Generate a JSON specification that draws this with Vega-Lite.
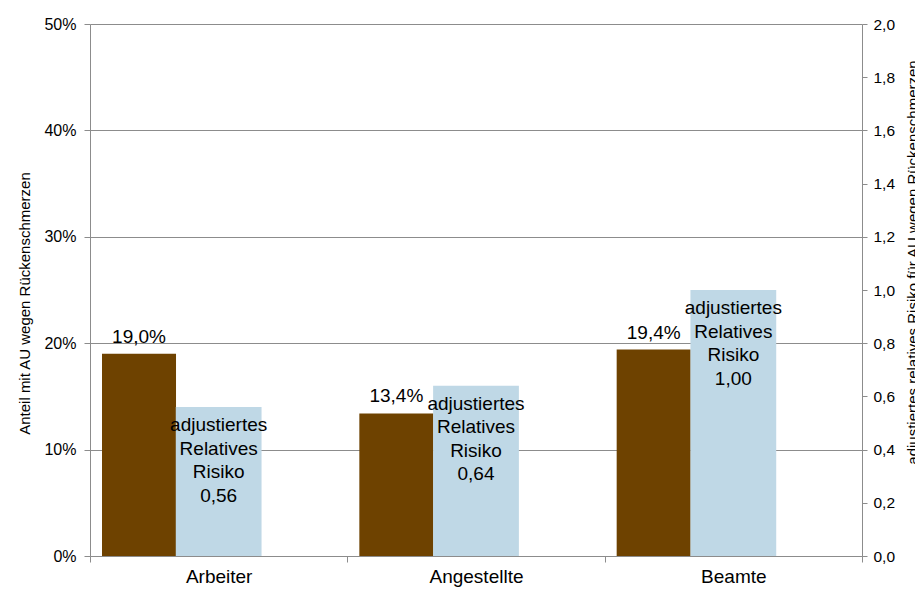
{
  "$schema": "https://vega.github.io/schema/vega-lite/v6.json",
  "width": 772,
  "height": 532,
  "autosize": {"type": "none"},
  "padding": {"left": 90, "top": 24, "right": 53, "bottom": 40},
  "background": "white",
  "config": {
    "font": "Liberation Sans",
    "locale": {"number": {"decimal": ",", "thousands": ".", "grouping": [3], "currency": ["", " €"]}},
    "view": {"stroke": null},
    "axis": {
      "domainColor": "#8c8c8c",
      "tickColor": "#8c8c8c",
      "gridColor": "#8c8c8c",
      "labelColor": "black",
      "titleColor": "black",
      "labelFont": "Liberation Sans",
      "titleFont": "Liberation Sans",
      "titleFontWeight": "normal"
    }
  },
  "data": {
    "values": [
      {"Gruppe": "Arbeiter", "Anteil": 0.190, "RR": 0.56},
      {"Gruppe": "Angestellte", "Anteil": 0.134, "RR": 0.64},
      {"Gruppe": "Beamte", "Anteil": 0.194, "RR": 1.00}
    ]
  },
  "layer": [
    {
      "encoding": {
        "x": {
          "field": "Gruppe", "type": "nominal", "sort": null,
          "scale": {"paddingInner": 0.7124, "paddingOuter": 0.3562, "align": 0.0655},
          "axis": null
        },
        "y": {
          "field": "Anteil", "type": "quantitative",
          "scale": {"domain": [0, 0.5]},
          "axis": {
            "orient": "left",
            "values": [0, 0.1, 0.2, 0.3, 0.4, 0.5],
            "format": ".0%",
            "title": "Anteil mit AU wegen Rückenschmerzen",
            "grid": true,
            "tickSize": 6,
            "labelPadding": 8,
            "labelFontSize": 16,
            "titleFontSize": 15,
            "titleX": -66,
            "titleY": 279,
            "titleBaseline": "middle",
            "titleAngle": 270
          }
        }
      },
      "layer": [
        {"mark": {"type": "bar", "color": "#6E4200"}},
        {
          "mark": {"type": "text", "fontSize": 19, "baseline": "alphabetic", "dy": -11, "color": "black"},
          "encoding": {"text": {"field": "Anteil", "type": "quantitative", "format": ".1%"}}
        }
      ]
    },
    {
      "encoding": {
        "x": {
          "field": "Gruppe", "type": "nominal", "sort": null,
          "scale": {"paddingInner": 0.66667, "paddingOuter": 0.33333},
          "axis": null
        },
        "y": {
          "field": "RR", "type": "quantitative",
          "scale": {"domain": [0, 2]},
          "axis": {
            "orient": "right",
            "values": [0, 0.2, 0.4, 0.6, 0.8, 1.0, 1.2, 1.4, 1.6, 1.8, 2.0],
            "format": ".1f",
            "title": "adjustiertes relatives Risiko für AU wegen Rückenschmerzen",
            "grid": false,
            "tickSize": 5,
            "labelPadding": 6,
            "labelFontSize": 15.5,
            "titleFontSize": 15,
            "titleAngle": 270,
            "titleX": 50,
            "titleY": 238,
            "titleBaseline": "middle"
          }
        }
      },
      "layer": [
        {"mark": {"type": "bar", "color": "#BFD8E6"}},
        {
          "mark": {"type": "text", "fontSize": 19, "baseline": "top", "dy": 9, "lineHeight": 23.5, "color": "black"},
          "encoding": {"text": {"value": ["adjustiertes", "Relatives", "Risiko"]}}
        },
        {
          "mark": {"type": "text", "fontSize": 19, "baseline": "top", "dy": 79.5, "color": "black"},
          "encoding": {"text": {"field": "RR", "type": "quantitative", "format": ".2f"}}
        }
      ]
    },
    {
      "mark": {"type": "text", "opacity": 0},
      "encoding": {
        "x": {
          "field": "Gruppe", "type": "nominal", "sort": null,
          "scale": {"paddingInner": 0, "paddingOuter": 0},
          "axis": {
            "orient": "bottom",
            "title": null,
            "labelAngle": 0,
            "labelFontSize": 19,
            "tickBand": "extent",
            "tickSize": 6,
            "labelPadding": 5,
            "domain": true
          }
        },
        "text": {"value": ""}
      }
    }
  ],
  "resolve": {"scale": {"x": "independent", "y": "independent"}}
}
